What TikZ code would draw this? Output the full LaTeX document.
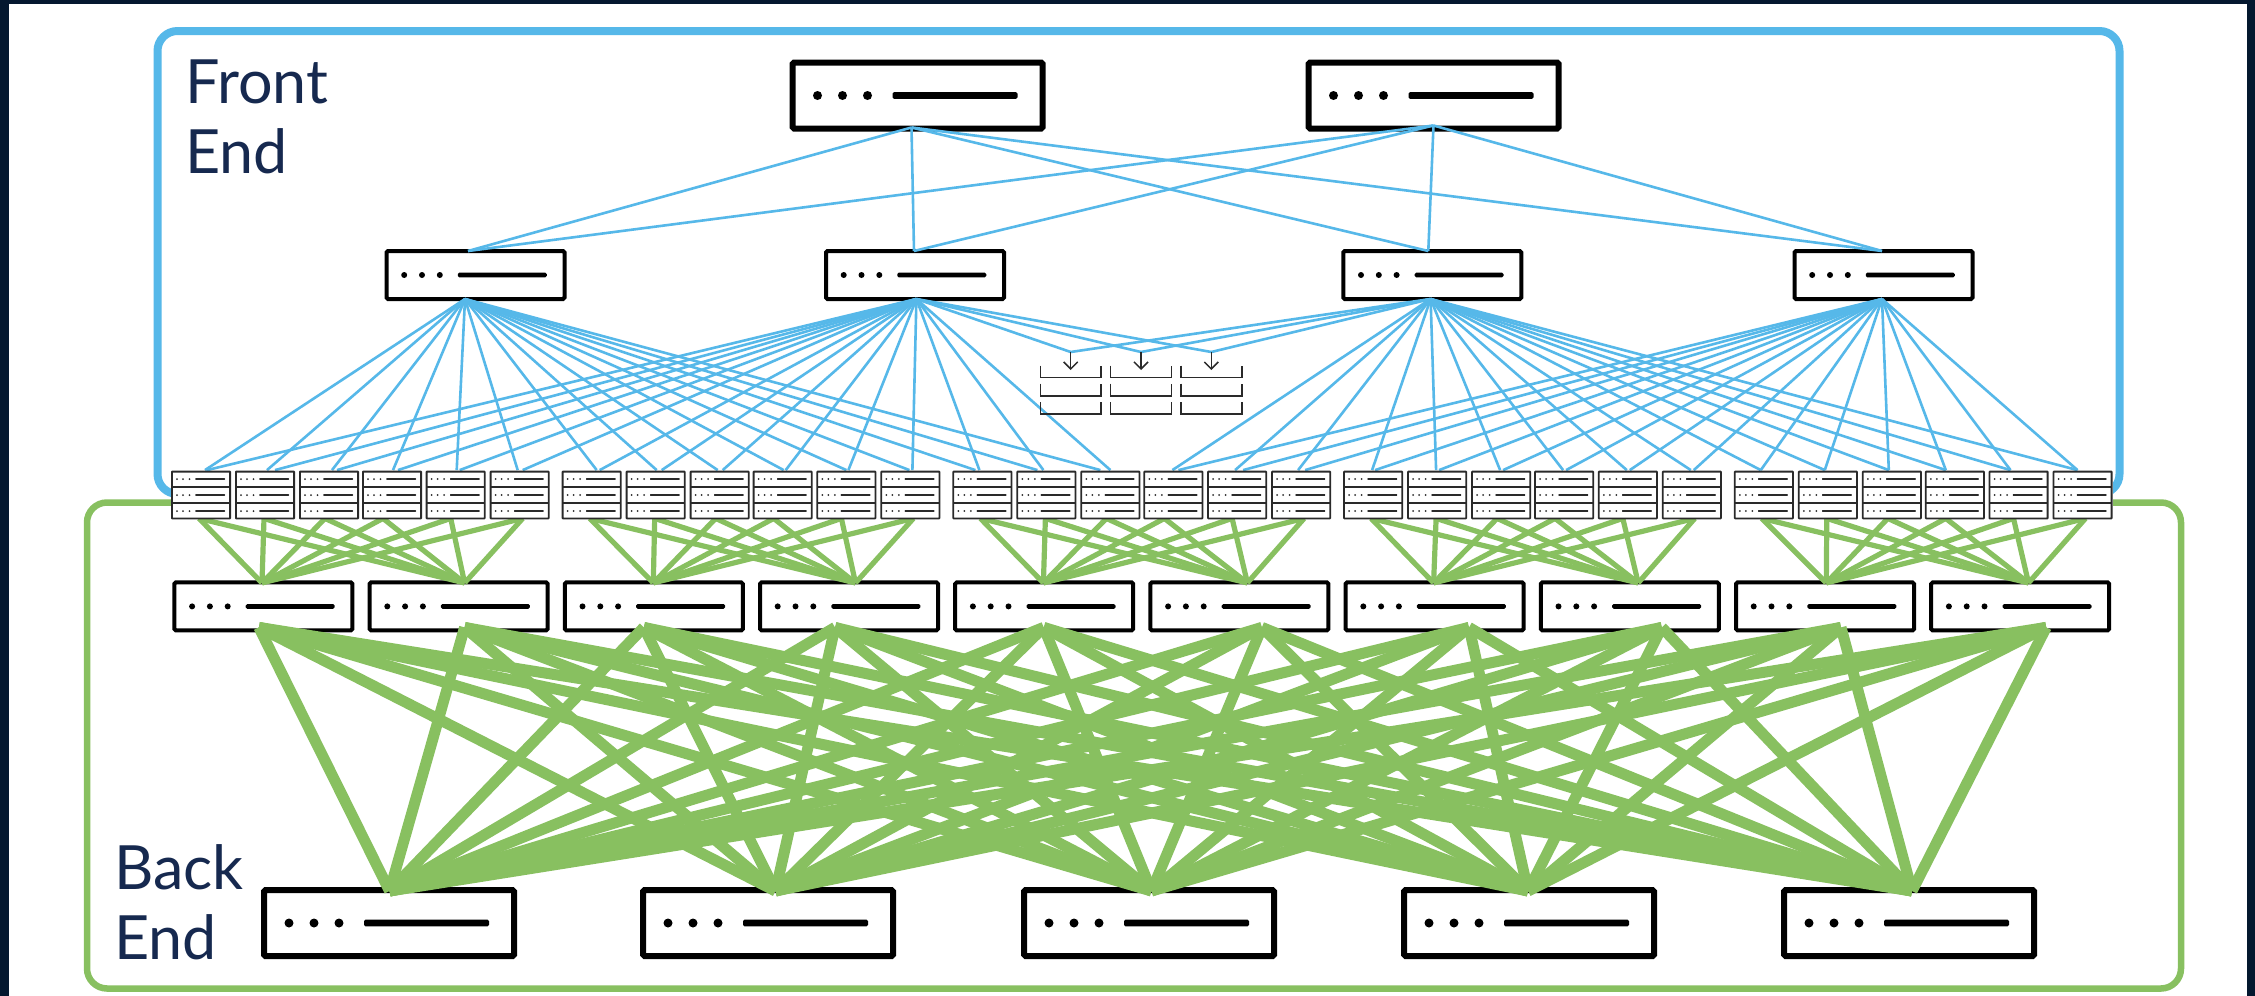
\documentclass[tikz,border=0pt]{standalone}
\usepackage{fontspec}
\setmainfont{Lato}
\usetikzlibrary{calc,arrows.meta}
\definecolor{navy}{HTML}{04182F}
\definecolor{feblue}{HTML}{56B8E9}
\definecolor{begreen}{HTML}{88C060}
\definecolor{label}{HTML}{16294F}
\definecolor{srv}{HTML}{2A2A2A}
\pgfdeclarelayer{frame}\pgfdeclarelayer{sw}\pgfdeclarelayer{link}
\pgfsetlayers{frame,sw,link,main}
\newcommand\swmarks[7]{%
  \coordinate (pc) at (path picture bounding box.center);
  \fill[black] ($(pc)+(#1,0)$) circle[radius=#6];
  \fill[black] ($(pc)+(#2,0)$) circle[radius=#6];
  \fill[black] ($(pc)+(#3,0)$) circle[radius=#6];
  \fill[black] ($(pc)+(#4,-#7/2)$) rectangle ($(pc)+(#5,#7/2)$);
}
\newcommand\srvmarks{%
  \coordinate (pc) at (path picture bounding box.center);
  \foreach \r in {-16,0,16}{
    \fill[srv] ($(pc)+(-24,\r)$) circle[radius=1];
    \fill[srv] ($(pc)+(-18,\r)$) circle[radius=1];
    \fill[srv] ($(pc)+(-11.5,\r)$) circle[radius=1];
    \fill[srv] ($(pc)+(-5.7,\r-0.9)$) rectangle ($(pc)+(24,\r+0.9)$);
  }
  \draw[srv,line width=1.8] ($(pc)+(-30,-8)$) -- ($(pc)+(30,-8)$);
  \draw[srv,line width=1.8] ($(pc)+(-30,8)$) -- ($(pc)+(30,8)$);
}
\tikzset{
  x=1pt,y=-1pt,
  swbase/.style={draw=black,fill=white,rounded corners=1.5,inner sep=0,outer sep=0},
  swbig/.style={swbase,line width=6,minimum width=250,minimum height=66,
    path picture={\swmarks{-100}{-75}{-50}{-25}{100}{4.5}{6.6}}},
  swsmall/.style={swbase,line width=4,minimum width=178,minimum height=48,
    path picture={\swmarks{-71.3}{-53.5}{-35.7}{-17.7}{71.3}{3}{4.7}}},
  server/.style={draw=srv,fill=white,line width=1.8,inner sep=0,outer sep=0,rounded corners=0.5,
    minimum width=58.2,minimum height=46.8,path picture={\srvmarks}},
  blueframe/.style={draw=feblue,line width=8,rounded corners=20},
  greenframe/.style={draw=begreen,line width=6.5,rounded corners=20},
  bluelink/.style={draw=feblue,line width=2.6},
  thinlink/.style={draw=begreen,line width=5.2},
  thicklink/.style={draw=begreen,line width=11},
  tray/.style={draw=srv,line width=1.5},
  traydown/.style={draw=srv,line width=1.5,-{Straight Barb[length=7,width=14,line width=1.5]}},
  tierlabel/.style={text=label,anchor=north west,align=left,inner sep=0,
    font=\fontsize{61}{70}\selectfont},
}
\begin{document}
\begin{tikzpicture}
\useasboundingbox (0,0) rectangle (2255,996);
\begin{pgfonlayer}{frame}
  \fill[navy] (0,0) rectangle (2255,996);
  \fill[white] (9,4) rectangle (2247,996);
  \draw[blueframe] (157.5,31) rectangle (2119.5,494);
  \draw[greenframe] (87,502.5) rectangle (2181,988.5);
  \fill[white] (171,468) rectangle (2113,520);
\end{pgfonlayer}

\begin{pgfonlayer}{sw}
  \node[swbig] (t1) at (917.5,95.5) {};
  \node[swbig] (t2) at (1433.5,95.5) {};
  \node[swsmall] (m1) at (475.5,275) {};
  \node[swsmall] (m2) at (915,275) {};
  \node[swsmall] (m3) at (1432.3,275) {};
  \node[swsmall] (m4) at (1883.5,275) {};
  \foreach \i [evaluate=\i as \cx using 263.4+195.2*(\i-1)] in {1,...,10}
    \node[swsmall] (l\i) at (\cx,606.4) {};
  \foreach \i/\cx in {1/389,2/768,3/1149,4/1529,5/1909}
    \node[swbig] (b\i) at (\cx,923) {};
\end{pgfonlayer}

% servers
\foreach \g in {0,...,4}{
  \foreach \k/\off in {1/0,2/64,3/128,4/191,5/254.7,6/318.7}{
    \pgfmathsetmacro{\cx}{171+390.7*\g+\off+30}
    \node[server] (s\g\k) at (\cx,495) {};
  }
}

% trays and their arrows
\foreach \c/\xa/\xb in {1/1040.5/1101,2/1110.5/1171.5,3/1181/1242}{
  \foreach \ya/\yb in {365.7/377.7,383.7/396,402/414}
    \draw[tray] (\xa,\ya) -- (\xa,\yb) -- (\xb,\yb) -- (\xb,\ya);
}
\coordinate (a1) at (1070.7,352);
\coordinate (a2) at (1141,352);
\coordinate (a3) at (1211.3,352);
\coordinate (a1e) at (1070.7,370);
\coordinate (a2e) at (1141,370);
\coordinate (a3e) at (1211.3,370);
\foreach \i in {1,2,3} \draw[traydown] (a\i) -- (a\i e);

\begin{pgfonlayer}{link}
  % top tier to middle tier
  \foreach \t/\dt/\yt in {t1/-6/1,t2/0/3}{
    \foreach \m/\dm in {m1/-7.5,m2/-1,m3/-4,m4/-1.5}
      \draw[bluelink] ([xshift=\dt,yshift=\yt]\t.south) -- ([xshift=\dm]\m.north);
  }
  % middle tier to servers
  \foreach \s/\d in {01/4,02/2,03/3,04/1,05/1,06/-2,11/5,12/1,13/-2,14/1,15/0,16/-1,21/-7,22/-9,23/-10}
    \draw[bluelink] ([xshift=-10.5]m1.south) -- ([xshift=\d,yshift=1.5]s\s.north);
  \foreach \s/\d in {01/6,02/10,03/8,04/6,05/4,06/3,11/8,12/6,13/3,14/3,15/2,16/2,21/-3,22/-3,23/0}
    \draw[bluelink] ([xshift=1.4]m2.south) -- ([xshift=\d,yshift=1.5]s\s.north);
  \foreach \s/\d in {24/-1,25/-2,26/-3,31/-1,32/-1,33/-1,34/-1,35/-1,36/-1,41/-3,42/-3,43/-3,44/-9,45/-8,46/-5}
    \draw[bluelink] ([xshift=-1.7]m3.south) -- ([xshift=\d,yshift=1.5]s\s.north);
  \foreach \s/\d in {24/5,25/6,26/4,31/2,32/2,33/2,34/2,35/2,36/2,41/-3,42/-3,43/-3,44/-9,45/-8,46/-5}
    \draw[bluelink] ([xshift=-1.5]m4.south) -- ([xshift=\d,yshift=1.5]s\s.north);
  % middle tier to the tray arrows
  \foreach \i in {1,2,3}{
    \draw[bluelink] ([xshift=1.4]m2.south) -- (a\i);
    \draw[bluelink] ([xshift=-1.7]m3.south) -- (a\i);
  }
  % servers to leaves
  \foreach \g/\la/\lb/\da/\db in {0/1/2/-1.4/6,1/3/4/-0.5/6.5,2/5/6/-0.8/8,3/7/8/-1/8.4,4/9/10/1.3/8.3}{
    \foreach \k/\d in {1/-2,2/-1,3/-4,4/-9,5/-5,6/3}{
      \draw[thinlink] ([xshift=\da,yshift=-0.5]l\la.north) -- ([xshift=\d]s\g\k.south);
      \draw[thinlink] ([xshift=\db,yshift=-0.5]l\lb.north) -- ([xshift=\d]s\g\k.south);
    }
  }
  % leaves to spines
  \foreach \i/\d in {1/-4.5,2/6,3/-10,4/-14,5/-0.5,6/22.5,7/34.4,8/32,9/16,10/26}{
    \foreach \j/\e in {1/0.6,2/7.5,3/2.5,4/-1,5/3}
      \draw[thicklink] ([xshift=\d,yshift=3]l\i.south) -- ([xshift=\e,yshift=-1]b\j.north);
  }
\end{pgfonlayer}

\node[tierlabel] (fe) at (185,60) {Front\\End};
\node[tierlabel] (be) at (114,844) {Back\\End};
\end{tikzpicture}
\end{document}
